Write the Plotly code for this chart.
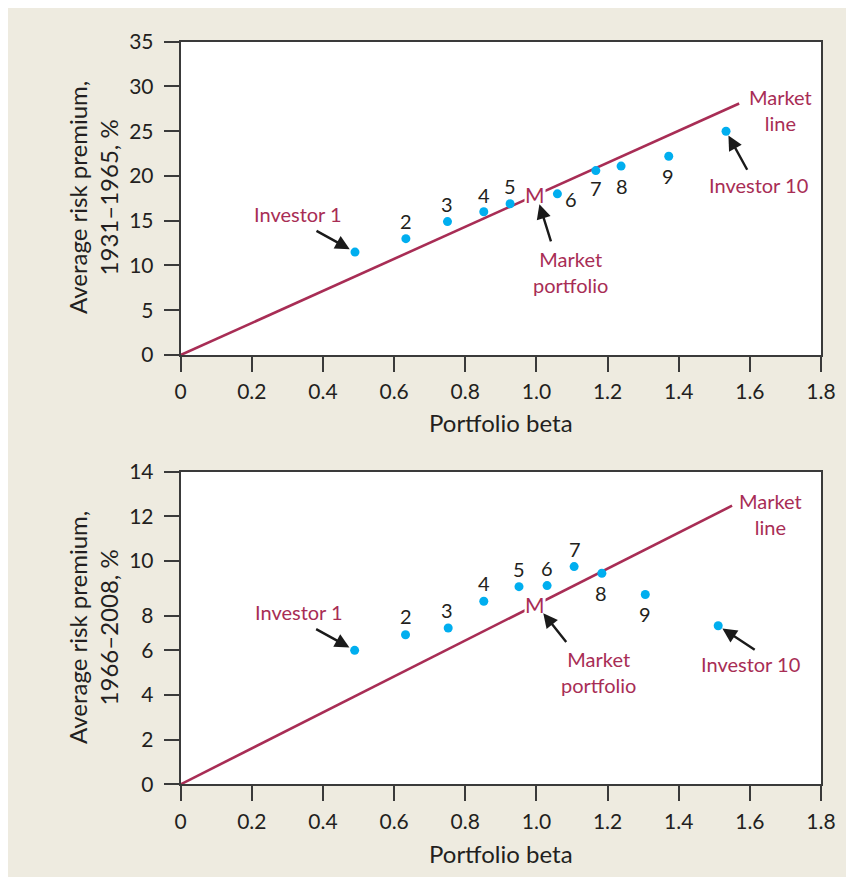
import plotly.graph_objects as go

# ---------------- data ----------------
portfolios = ["1", "2", "3", "4", "5", "6", "7", "8", "9", "10"]

beta_top = [0.49, 0.633, 0.75, 0.852, 0.926, 1.059, 1.167, 1.238, 1.372, 1.533]
prem_top = [11.5, 13.0, 14.9, 16.0, 16.9, 18.0, 20.6, 21.1, 22.2, 25.0]
market_prem_top = 17.9      # market portfolio premium (beta = 1)
line_end_top = 1.57

beta_bot = [0.489, 0.632, 0.752, 0.852, 0.951, 1.030, 1.106, 1.184, 1.306, 1.511]
prem_bot = [6.0, 6.7, 7.0, 8.2, 8.85, 8.9, 9.75, 9.45, 8.5, 7.1]
market_prem_bot = 8.05
line_end_bot = 1.55

x_ticks = [0, 0.2, 0.4, 0.6, 0.8, 1.0, 1.2, 1.4, 1.6, 1.8]
x_ticktext = ["0", "0.2", "0.4", "0.6", "0.8", "1.0", "1.2", "1.4", "1.6", "1.8"]
y_ticks_top = [0, 5, 10, 15, 20, 25, 30, 35]
y_ticktext_top = ["0", "5", "10", "15", "20", "25", "30", "35"]
# the printed chart places its "8" label a little low; reproduce that
y_ticks_bot = [0, 2, 4, 6, 7.55, 10, 12, 14]
y_ticktext_bot = ["0", "2", "4", "6", "8", "10", "12", "14"]

# ---------------- style ----------------
W, H = 838, 869          # page has an 8 px body margin
OFF = 8
BG = "#EEEBE0"
CRIMSON = "#A82D55"
BLUE = "#00AEEF"
DARK = "#231F20"
FONT = "Lato"

def px_x(p):
    return (p - OFF) / W

def px_y(p):
    return 1 - (p - OFF) / H

fig = go.Figure()

panels = [
    dict(beta=beta_top, prem=prem_top, mp=market_prem_top, end=line_end_top,
         xa="x", ya="y"),
    dict(beta=beta_bot, prem=prem_bot, mp=market_prem_bot, end=line_end_bot,
         xa="x2", ya="y2"),
]

for p in panels:
    fig.add_trace(go.Scatter(
        x=[0, p["end"]], y=[0, p["mp"] * p["end"]], mode="lines",
        line=dict(color=CRIMSON, width=2.6), xaxis=p["xa"], yaxis=p["ya"],
        showlegend=False, hoverinfo="skip"))
    fig.add_trace(go.Scatter(
        x=p["beta"], y=p["prem"], mode="markers",
        marker=dict(color=BLUE, size=9), xaxis=p["xa"], yaxis=p["ya"],
        showlegend=False, cliponaxis=False))

ann = []

# number label offsets (px, right / up) for portfolios 2..9
off_top = {1: (0, 18), 2: (0, 18), 3: (0, 17), 4: (0, 18), 5: (14, -5),
           6: (0, -17), 7: (1, -20), 8: (-1, -20)}
off_bot = {1: (0, 19), 2: (-1, 18), 3: (0, 18), 4: (0, 18), 5: (0, 18),
           6: (1, 18), 7: (-1, -20), 8: (0, -19)}

for p, offs, geo in [(panels[0], off_top, "top"), (panels[1], off_bot, "bot")]:
    xr, yr = p["xa"], p["ya"]
    for i, (dx, dy) in offs.items():
        ann.append(dict(x=p["beta"][i], y=p["prem"][i], xref=xr, yref=yr,
                        text=portfolios[i], showarrow=False, xshift=dx, yshift=dy,
                        font=dict(family=FONT, size=20, color=DARK)))
    # M on market line
    ann.append(dict(x=1.0, y=p["mp"], xref=xr, yref=yr, text="M", showarrow=False,
                    bgcolor="white", borderpad=0, xshift=-1,
                    font=dict(family=FONT, size=21, color=CRIMSON)))
    if geo == "top":
        i1 = dict(tx=(-57, 38), arr=(-40, -22), so=6)
        i10 = dict(tx=(32, -54), arr=(22, 40), so=5)
        mpt = dict(tx=(34, -77), arr=(15, 48), so=10)
        ml = dict(tx=(41, -7))
    else:
        i1 = dict(tx=(-56, 38), arr=(-40, -22), so=6)
        i10 = dict(tx=(32, -38), arr=(38, 25), so=5)
        mpt = dict(tx=(62, -67), arr=(31, 39), so=11)
        ml = dict(tx=(38, -8))
    tf = dict(family=FONT, size=20, color=CRIMSON)
    arrow_style = dict(arrowhead=2, arrowsize=1.2, arrowwidth=2.4, arrowcolor="#1a1a1a")
    # Investor 1
    ann.append(dict(x=p["beta"][0], y=p["prem"][0], xref=xr, yref=yr,
                    text="Investor 1", showarrow=False,
                    xshift=i1["tx"][0], yshift=i1["tx"][1], font=tf))
    ann.append(dict(x=p["beta"][0], y=p["prem"][0], xref=xr, yref=yr, text="",
                    showarrow=True, ax=i1["arr"][0], ay=i1["arr"][1],
                    standoff=i1["so"], **arrow_style))
    # Investor 10
    ann.append(dict(x=p["beta"][9], y=p["prem"][9], xref=xr, yref=yr,
                    text="Investor 10", showarrow=False,
                    xshift=i10["tx"][0], yshift=i10["tx"][1], font=tf))
    ann.append(dict(x=p["beta"][9], y=p["prem"][9], xref=xr, yref=yr, text="",
                    showarrow=True, ax=i10["arr"][0], ay=i10["arr"][1],
                    standoff=i10["so"], **arrow_style))
    # Market portfolio
    ann.append(dict(x=1.0, y=p["mp"], xref=xr, yref=yr,
                    text="Market<br>portfolio", showarrow=False,
                    xshift=mpt["tx"][0], yshift=mpt["tx"][1], font=tf))
    ann.append(dict(x=1.0, y=p["mp"], xref=xr, yref=yr, text="",
                    showarrow=True, ax=mpt["arr"][0], ay=mpt["arr"][1],
                    standoff=mpt["so"], **arrow_style))
    # Market line
    ann.append(dict(x=p["end"], y=p["mp"] * p["end"], xref=xr, yref=yr,
                    text="Market<br>line", showarrow=False,
                    xshift=ml["tx"][0], yshift=ml["tx"][1], font=tf))

# axis titles
title_font = dict(family=FONT, size=24, color=DARK)
common_t = dict(xref="paper", yref="paper", showarrow=False, font=title_font,
                xanchor="center", yanchor="middle")
ann.append(dict(x=px_x(93), y=px_y(198), text="Average risk premium,<br>1931–1965, %",
                textangle=-90, **common_t))
ann.append(dict(x=px_x(93), y=px_y(628), text="Average risk premium,<br>1966–2008, %",
                textangle=-90, **common_t))
ann.append(dict(x=px_x(501), y=px_y(422), text="Portfolio beta", **common_t))
ann.append(dict(x=px_x(501), y=px_y(853), text="Portfolio beta", **common_t))

axis_common = dict(showline=True, linecolor="#3a3a3a", linewidth=2, mirror=True,
                   ticks="outside", ticklen=15, tickwidth=1.5, tickcolor="#3a3a3a",
                   showgrid=False, zeroline=False, automargin=False,
                   tickfont=dict(family=FONT, size=21, color=DARK))

xdom = [px_x(180.7), px_x(821)]
fig.update_layout(
    width=W, height=H, autosize=False,
    margin=dict(l=0, r=0, t=0, b=0, pad=0),
    paper_bgcolor=BG, plot_bgcolor="white",
    xaxis=dict(domain=xdom, range=[0, 1.8], tickvals=x_ticks, ticktext=x_ticktext,
               anchor="y", ticklabelstandoff=2, **axis_common),
    yaxis=dict(domain=[px_y(355), px_y(41.7)], range=[0, 35], tickvals=y_ticks_top,
               ticktext=y_ticktext_top, anchor="x", ticklabelstandoff=6, **axis_common),
    xaxis2=dict(domain=xdom, range=[0, 1.8], tickvals=x_ticks, ticktext=x_ticktext,
                anchor="y2", ticklabelstandoff=2, **axis_common),
    yaxis2=dict(domain=[px_y(784.3), px_y(471.7)], range=[0, 14], tickvals=y_ticks_bot,
                ticktext=y_ticktext_bot, anchor="x2", ticklabelstandoff=6, **axis_common),
    annotations=ann,
)

fig.write_html("out.html")
